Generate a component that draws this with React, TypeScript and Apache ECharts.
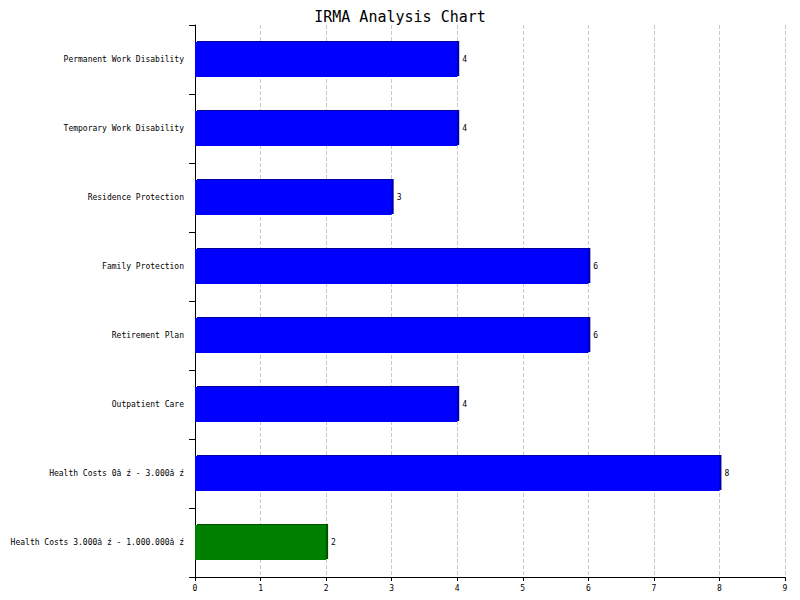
import { useEffect, useRef } from 'react';
import * as echarts from 'echarts';

const categories = [
  'Health Costs 3.000â ź - 1.000.000â ź',
  'Health Costs 0â ź - 3.000â ź',
  'Outpatient Care',
  'Retirement Plan',
  'Family Protection',
  'Residence Protection',
  'Temporary Work Disability',
  'Permanent Work Disability',
];
const values = [2, 8, 4, 6, 6, 3, 4, 4];
const colors = ['#008000', '#0000ff', '#0000ff', '#0000ff', '#0000ff', '#0000ff', '#0000ff', '#0000ff'];
const edgeColors = ['#005000', '#0000a0', '#0000a0', '#0000a0', '#0000a0', '#0000a0', '#0000a0', '#0000a0'];

const font = 'DejaVu Sans Mono';

export default function App() {
  const ref = useRef<HTMLDivElement>(null);

  useEffect(() => {
    if (!ref.current) return;
    const chart = echarts.init(ref.current, null, { renderer: 'svg' });
    chart.setOption({
      animation: false,
      backgroundColor: '#fff',
      title: {
        text: 'IRMA Analysis Chart',
        left: 'center',
        top: 4,
        textStyle: { fontFamily: font, fontSize: 15, fontWeight: 'normal', color: '#000' },
      },
      grid: { left: 195, right: 15, top: 25, bottom: 23 },
      xAxis: {
        type: 'value',
        min: 0,
        max: 9,
        interval: 1,
        axisLine: { show: true, lineStyle: { color: '#000' } },
        axisTick: { show: true, length: 4, lineStyle: { color: '#000' } },
        axisLabel: { fontFamily: font, fontSize: 8, color: '#000', margin: 7 },
        splitLine: { show: true, lineStyle: { type: 'dashed', color: '#c8c8c8' } },
      },
      yAxis: {
        type: 'category',
        data: categories,
        axisLine: { show: true, lineStyle: { color: '#000' } },
        axisTick: { show: true, length: 6, lineStyle: { color: '#000' } },
        axisLabel: { fontFamily: font, fontSize: 8, color: '#000', margin: 11 },
      },
      series: [
        {
          type: 'bar',
          barWidth: '51%',
          data: values.map((v, i) => ({
            value: v,
            itemStyle: {
              color: colors[i],
              shadowColor: edgeColors[i],
              shadowOffsetX: 2,
              shadowOffsetY: -1,
            },
          })),
          label: {
            show: true,
            position: 'right',
            distance: 5,
            fontFamily: font,
            fontSize: 8,
            color: '#000',
          },
        },
      ],
    });
    return () => chart.dispose();
  }, []);

  return <div ref={ref} style={{ width: 800, height: 600, margin: -8 }} />;
}
